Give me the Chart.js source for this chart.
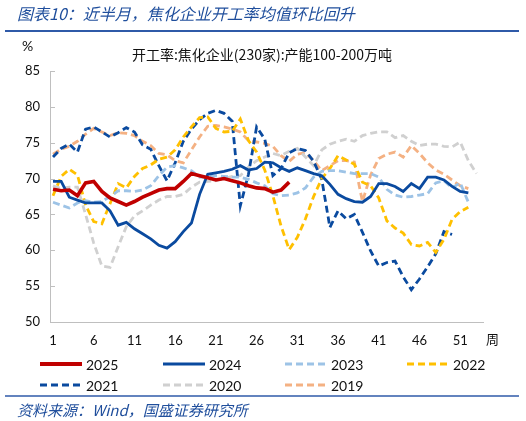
<!DOCTYPE html>
<html>
<head>
<meta charset="utf-8">
<script src="https://cdn.jsdelivr.net/npm/chart.js@4.4.1/dist/chart.umd.min.js"></script>
<style>
    html, body { margin: 0; padding: 0; background: #fff; }
    #wrap { width: 526px; height: 421px; position: relative; }
</style>
</head>
<body>
<div id="wrap"><canvas id="rateChart" width="526" height="421"></canvas></div>
<script>
// 焦化企业开工率 周度数据 (%)
const xTickValues = [1, 6, 11, 16, 21, 26, 31, 36, 41, 46, 51];
const yTickValues = [50, 55, 60, 65, 70, 75, 80, 85];
const seriesLabels = ['2025', '2024', '2023', '2022', '2021', '2020', '2019'];

const rate2025 = [68.5, 68.3, 68.4, 67.6, 69.4, 69.6, 68.2, 67.3, 66.8, 66.3, 66.8, 67.4, 67.9, 68.4, 68.6,
    68.6, 69.6, 70.7, 70.4, 70.1, 69.8, 70.0, 69.7, 69.4, 69.0, 68.7, 68.6, 68.1, 68.4, 69.5];
const rate2024 = [69.6, 69.6, 67.4, 67.0, 66.6, 66.6, 66.6, 65.5, 63.5, 63.9, 63.0, 62.3, 61.6, 60.7, 60.3,
    61.2, 62.6, 63.8, 67.8, 70.6, 70.8, 71.0, 71.3, 71.8, 71.2, 71.4, 72.3, 72.2, 71.5, 71.0,
    71.5, 71.1, 70.7, 70.4, 69.2, 67.8, 67.2, 66.8, 66.7, 67.5, 69.3, 69.3, 68.9, 68.2, 69.3,
    68.6, 70.2, 70.2, 69.8, 68.9, 68.2, 68.0];
const rate2023 = [66.7, 66.3, 65.9, 66.6, 66.9, 66.7, 66.8, 67.5, 68.3, 68.3, 68.2, 68.4, 69.0, 70.4, 71.6,
    71.8, 71.5, 71.1, 70.2, 70.2, 70.4, 70.3, 70.2, 70.2, 69.9, 69.4, 69.0, 67.9, 67.6, 67.7,
    68.0, 68.7, 70.2, 71.0, 71.1, 71.1, 70.9, 70.7, 70.7, 70.7, 70.2, 68.5, 67.7, 67.4, 67.5,
    67.7, 67.9, 69.4, 69.7, 68.7, 69.4, 66.7];
const rate2022 = [67.6, 70.3, 71.3, 70.5, 66.3, 64.0, 63.7, 66.5, 69.3, 68.7, 70.3, 71.4, 71.9, 72.7, 73.0,
    74.0, 75.8, 77.2, 78.5, 78.6, 77.0, 76.5, 76.6, 78.3, 75.3, 73.7, 71.2, 67.6, 63.4, 60.1,
    61.8, 64.4, 67.5, 70.0, 71.4, 73.2, 72.6, 72.0, 69.5, 69.0, 67.3, 64.1, 63.1, 62.4, 60.8,
    60.6, 61.1, 59.7, 61.5, 64.3, 65.4, 66.0];
const rate2021 = [73.0, 74.2, 74.8, 73.7, 76.9, 77.2, 76.5, 75.8, 76.4, 77.1, 76.5, 74.7, 74.1, 71.8, 69.7,
    72.2, 75.2, 76.9, 78.2, 79.1, 79.5, 79.1, 78.0, 66.2, 70.6, 77.2, 75.5, 70.4, 71.4, 73.6,
    74.2, 73.9, 72.4, 69.9, 63.2, 65.5, 64.4, 65.0, 62.5, 59.9, 57.8, 58.3, 58.5, 56.3, 54.5,
    56.0, 57.7, 59.5, 62.6, 62.2];
const rate2020 = [69.0, 68.6, 68.8, 68.8, 65.0, 61.0, 57.8, 57.6, 60.5, 63.3, 64.8, 65.5, 66.3, 67.0, 67.5,
    67.5, 67.8, 68.8, 69.5, 69.6, 69.7, 70.0, 70.3, 70.4, 71.6, 72.5, 73.0, 73.5, 73.2, 73.8,
    74.2, 73.0, 71.8, 74.0, 74.8, 75.2, 75.5, 75.2, 76.0, 76.3, 76.5, 76.5, 75.7, 76.0, 75.2,
    74.6, 74.8, 74.8, 74.5, 74.4, 75.1, 72.5, 70.7];
const rate2019 = [73.4, 74.1, 74.5, 75.2, 76.2, 77.0, 76.5, 76.0, 76.4, 76.3, 76.0, 75.2, 74.6, 73.5, 73.3,
    72.5, 72.2, 74.0, 75.8, 77.3, 77.4, 77.2, 76.9, 76.5, 75.3, 75.1, 74.9, 74.5, 73.2, 72.4,
    73.4, 73.6, 72.5, 71.1, 71.8, 72.5, 72.5, 72.3, 66.8, 70.5, 72.8, 73.4, 73.7, 73.0, 74.6,
    73.5, 72.2, 71.2, 70.6, 69.8, 69.0, 68.6];

const numFont = "Lato, 'Noto Sans CJK SC', sans-serif";
const cjkFont = "'Noto Sans CJK SC', sans-serif";
const blueText = '#1f4e9c';

// 系列样式
const seriesStyles = [
    { color: '#c00000', width: 3.6, dash: [] },
    { color: '#0a4a9f', width: 2.8, dash: [] },
    { color: '#9dc3e6', width: 2.8, dash: [7, 4] },
    { color: '#ffc000', width: 2.8, dash: [7, 4] },
    { color: '#0a4a9f', width: 2.8, dash: [7, 4] },
    { color: '#d0d0d0', width: 2.8, dash: [7, 4] },
    { color: '#f4b183', width: 2.8, dash: [7, 4] }
];
const seriesData = [rate2025, rate2024, rate2023, rate2022, rate2021, rate2020, rate2019];

const datasets = seriesData.map((values, i) => ({
    label: seriesLabels[i],
    data: values.map((v, k) => ({ x: k + 1, y: v })),
    borderColor: seriesStyles[i].color,
    backgroundColor: seriesStyles[i].color,
    borderWidth: seriesStyles[i].width,
    borderDash: seriesStyles[i].dash,
    pointRadius: 0,
    tension: 0,
    fill: false
}));

// 标题、图例、来源等装饰
const decorPlugin = {
    id: 'decor',
    afterDraw(chart) {
        const ctx = chart.ctx;
        const area = chart.chartArea;
        ctx.save();

        // 顶部标题
        ctx.fillStyle = blueText;
        ctx.font = 'italic 16px ' + cjkFont;
        ctx.textAlign = 'left';
        ctx.textBaseline = 'middle';
        ctx.fillText('图表10：近半月，焦化企业开工率均值环比回升', 17, 14);

        ctx.strokeStyle = '#2f5aa8';
        ctx.lineWidth = 2;
        ctx.beginPath();
        ctx.moveTo(5, 31);
        ctx.lineTo(519, 31);
        ctx.stroke();

        // 图内标题
        ctx.fillStyle = '#111';
        ctx.font = '14px ' + cjkFont;
        ctx.textAlign = 'center';
        ctx.fillText('开工率:焦化企业(230家):产能100-200万吨', 262, 55);

        ctx.font = '14px ' + numFont;
        ctx.textAlign = 'left';
        ctx.fillText('%', 22, 46);

        ctx.font = '13px ' + cjkFont;
        ctx.fillText('周', 486, 339);

        // y 轴内向刻度
        const yScale = chart.scales.y;
        ctx.strokeStyle = '#bfbfbf';
        ctx.lineWidth = 1;
        yScale.ticks.forEach(t => {
            const py = Math.round(yScale.getPixelForValue(t.value)) + 0.5;
            ctx.beginPath();
            ctx.moveTo(area.left, py);
            ctx.lineTo(area.left + 5, py);
            ctx.stroke();
        });

        // 图例
        const colX = [40, 163, 285, 407];
        const rowY = [364, 385];
        ctx.font = '14px ' + numFont;
        ctx.textBaseline = 'middle';
        chart.data.datasets.forEach((ds, i) => {
            const x = colX[i % 4];
            const y = rowY[Math.floor(i / 4)];
            ctx.strokeStyle = ds.borderColor;
            ctx.lineWidth = i === 0 ? 4 : 3;
            ctx.setLineDash(ds.borderDash);
            ctx.beginPath();
            ctx.moveTo(x, y);
            ctx.lineTo(x + 42, y);
            ctx.stroke();
            ctx.setLineDash([]);
            ctx.fillStyle = '#111';
            ctx.fillText(ds.label, x + 46, y + 1);
        });

        // 底部来源
        ctx.strokeStyle = '#2f5aa8';
        ctx.lineWidth = 1.5;
        ctx.beginPath();
        ctx.moveTo(5, 396);
        ctx.lineTo(519, 396);
        ctx.stroke();

        ctx.fillStyle = blueText;
        ctx.font = 'italic 15px ' + cjkFont;
        ctx.fillText('资料来源：Wind，国盛证券研究所', 17, 410);

        ctx.restore();
    }
};

const tickFont = { family: numFont, size: 13 };

new Chart(document.getElementById('rateChart'), {
    type: 'line',
    data: { datasets: datasets },
    options: {
        responsive: false,
        animation: false,
        layout: { padding: { top: 71, right: 43, bottom: 0, left: 0 } },
        plugins: {
            legend: { display: false },
            tooltip: { enabled: false }
        },
        scales: {
            x: {
                type: 'linear',
                min: 0.63,
                max: 53.8,
                afterBuildTicks: scale => { scale.ticks = xTickValues.map(v => ({ value: v })); },
                afterFit: scale => { scale.height = 99; },
                grid: { display: false, drawTicks: false },
                border: { display: true, color: '#bfbfbf', width: 1 },
                ticks: {
                    padding: 11,
                    font: tickFont,
                    color: '#111',
                    autoSkip: false,
                    maxRotation: 0,
                    callback: value => String(value)
                }
            },
            y: {
                min: 50,
                max: 85,
                afterBuildTicks: scale => { scale.ticks = yTickValues.map(v => ({ value: v })); },
                afterFit: scale => { scale.width = 50; },
                grid: { display: false, drawTicks: false },
                border: { display: true, color: '#bfbfbf', width: 1 },
                ticks: {
                    padding: 10,
                    font: tickFont,
                    color: '#111'
                }
            }
        }
    },
    plugins: [decorPlugin]
});
</script>
</body>
</html>
